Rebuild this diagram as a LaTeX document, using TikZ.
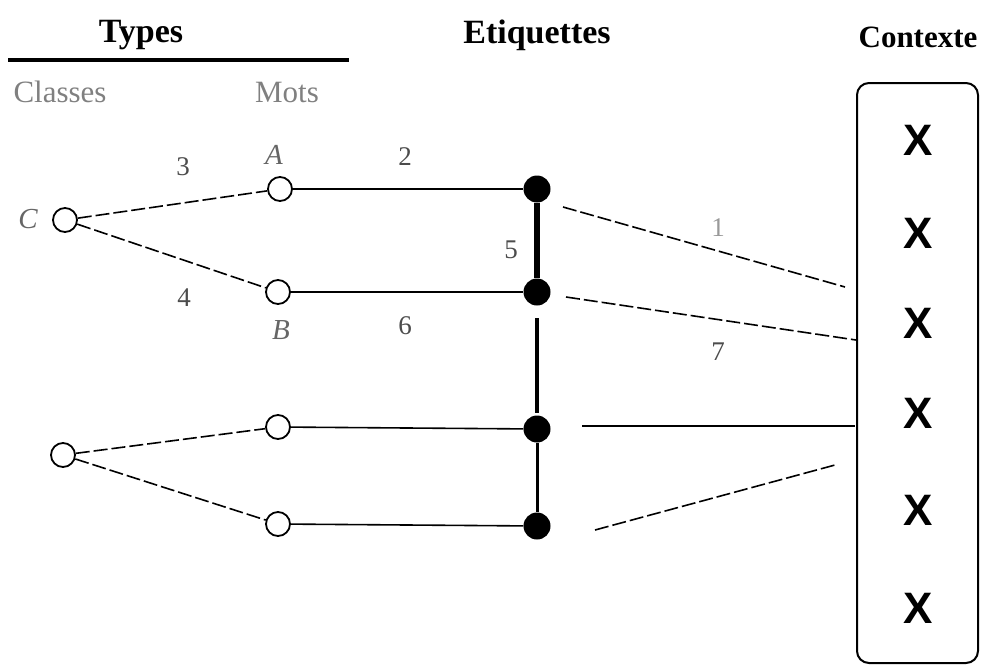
\documentclass[tikz,border=0pt]{standalone}
\usepackage{fontspec}
\setmainfont{Liberation Serif}
\newfontfamily\xfont{Liberation Sans}
\begin{document}
\begin{tikzpicture}[x=1pt,y=-1pt,
  open/.style={circle,draw,line width=1.8pt,minimum size=24pt,inner sep=0pt,fill=white},
  full/.style={circle,fill=black,minimum size=27pt,inner sep=0pt},
  link/.style={line width=1.6pt},
  dlink/.style={line width=1.6pt,dash pattern=on 14pt off 4pt},
  head/.style={font=\fontsize{34}{36}\selectfont\bfseries},
  sub/.style={font=\fontsize{31}{33}\selectfont,text=black!50},
  num/.style={font=\fontsize{27}{29}\selectfont,text=black!70},
  ital/.style={font=\fontsize{29}{31}\selectfont\itshape,text=black!60},
  xmark/.style={font=\xfont\fontsize{44}{46}\selectfont\bfseries}]
\useasboundingbox (0,0) rectangle (984,664);
% headers
\node[head] (types) at (141,35) {Types};
\node[head] (etiq) at (537,35) {Etiquettes};
\node[head,font=\fontsize{31}{33}\selectfont\bfseries] (ctx) at (918,37) {Contexte};
\coordinate (ul) at (8,60);
\coordinate (ur) at (349,60);
\draw[line width=4pt] (ul) -- (ur);
\node[sub] (classes) at (60,92) {Classes};
\node[sub] (mots) at (287,92) {Mots};
% context box
\node[draw,line width=2pt,rounded corners=12pt,minimum width=121pt,minimum height=580pt] (box) at (917.5,373) {};
\foreach \i/\y in {1/140,2/233,3/323,4/413,5/510,6/608}
  \node[xmark] (x\i) at (918,\y) {X};
% type nodes
\node[open] (C) at (65,220) {};
\node[open] (A) at (280,189) {};
\node[open] (B) at (278,292) {};
\node[open] (C2) at (63,455) {};
\node[open] (D) at (278,427) {};
\node[open] (E) at (278,524) {};
% tag nodes
\node[full] (t1) at (537,189) {};
\node[full] (t2) at (537,292) {};
\node[full] (t3) at (537,429) {};
\node[full] (t4) at (537,526) {};
% labels
\node[ital] (lC) at (28,219) {C};
\node[ital] (lA) at (274,155) {A};
\node[ital] (lB) at (281,330) {B};
\node[num] (n3) at (183,167) {3};
\node[num] (n4) at (184,298) {4};
\node[num] (n2) at (405,157) {2};
\node[num] (n6) at (405,326) {6};
\node[num] (n5) at (511,250) {5};
\node[num,text=black!40] (n1) at (718,228) {1};
\node[num] (n7) at (718,352) {7};
% class to word links
\draw[dlink] (C) -- (A);
\draw[dlink] (C) -- (B);
\draw[dlink] (C2) -- (D);
\draw[dlink] (C2) -- (E);
% word to tag
\draw[link] (A) -- (t1);
\draw[link] (B) -- (t2);
\draw[link] (D) -- (t3);
\draw[link] (E) -- (t4);
% tag chain
\draw[line width=6pt] (t1) -- (t2);
\coordinate (g1) at (537,318);
\coordinate (g2) at (537,413);
\draw[line width=4pt] (g1) -- (g2);
\draw[line width=3pt] (t3) -- (t4);
% tag to context
\coordinate (a1) at (563,207);
\coordinate (b1) at (845,287);
\draw[dlink] (a1) -- (b1);
\coordinate (a2) at (566,297);
\coordinate (b2) at (box.west |- 0,340);
\draw[dlink] (a2) -- (b2);
\coordinate (a3) at (582,426);
\coordinate (b3) at (855,426);
\draw[link] (a3) -- (b3);
\coordinate (a4) at (595,530);
\coordinate (b4) at (835,465);
\draw[dlink] (a4) -- (b4);
\end{tikzpicture}
\end{document}
